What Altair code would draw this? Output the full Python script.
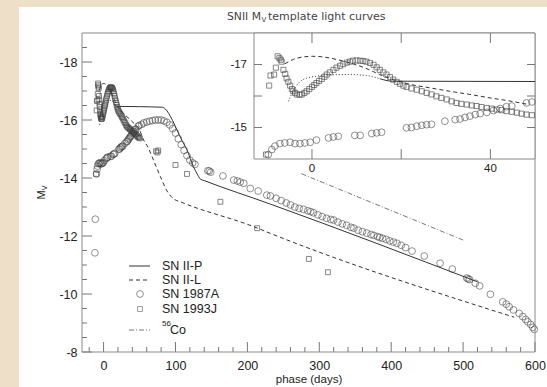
import altair as alt
import pandas as pd

# ---------------- data ----------------
sn87_day = [-12.0, -11.5, -9.8, -9.0, -8.3, -7.2, -6.1, -4.9, -3.8, -2.7, -1.6, -0.4, 1.0, 3.7, 4.8, 5.9,
            9.6, 10.8, 13.4, 14.5, 15.6, 21.2, 22.3, 23.5, 24.6, 25.7, 26.8, 29.8, 32.1, 33.2, 34.3,
            35.4, 36.6, 37.7, 39.2, 40.7, 42.2, 43.6, 44.8, 48.1, 49.3, 53, 56, 60, 64, 68, 72, 76,
            80, 84, 88, 92, 96, 100, 104, 108, 112, 116, 120, 124, 127, 145, 147, 149, 166, 181,
            186, 190, 195, 204, 215, 227, 232, 240, 247, 254, 260, 266, 272, 278, 284, 288, 292,
            298, 304, 310, 316, 320, 326, 332, 338, 344, 348, 354, 360, 366, 372, 376, 381, 384,
            388, 393, 398, 403, 408, 414, 420, 429, 446, 468, 485, 505, 507, 509, 517, 523, 538,
            555, 560, 564, 570, 578, 583, 587, 590, 594, 597, 599]
sn87_mag = [-11.42, -12.58, -14.14, -14.30, -14.41, -14.49, -14.51, -14.53, -14.49, -14.49, -14.51,
            -14.53, -14.60, -14.67, -14.70, -14.72, -14.75, -14.75, -14.81, -14.83, -14.85, -14.99,
            -15.00, -15.04, -15.07, -15.09, -15.10, -15.20, -15.25, -15.27, -15.32, -15.36, -15.41,
            -15.44, -15.48, -15.54, -15.60, -15.66, -15.68, -15.78, -15.81, -15.85, -15.90, -15.93,
            -15.96, -15.98, -16.00, -16.00, -16.00, -15.97, -15.92, -15.83, -15.70, -15.55, -15.35,
            -15.15, -14.95, -14.77, -14.62, -14.52, -14.47, -14.25, -14.24, -14.20, -14.07, -13.93,
            -13.90, -13.86, -13.82, -13.64, -13.55, -13.41, -13.38, -13.30, -13.22, -13.14, -13.07,
            -13.00, -12.95, -12.92, -12.87, -12.84, -12.80, -12.73, -12.67, -12.61, -12.57, -12.55,
            -12.48, -12.42, -12.37, -12.30, -12.27, -12.20, -12.15, -12.10, -12.05, -12.02, -11.98,
            -11.95, -11.92, -11.88, -11.83, -11.79, -11.75, -11.68, -11.60, -11.48, -11.31, -11.06,
            -10.86, -10.55, -10.52, -10.50, -10.37, -10.28, -9.99, -9.73, -9.65, -9.56, -9.45,
            -9.33, -9.22, -9.12, -9.04, -8.95, -8.85, -8.78]

sn93_day = [-10.3, -9.6, -9.3, -8.5, -8.1, -7.7, -7.3, -7.0, -6.8, -6.4, -6.0, -5.7, -5.3, -4.9, -4.5,
            -4.2, -3.8, -3.4, -2.8, -2.3, -1.7, -1.2, -0.6, 0.0, 0.5, 1.0, 1.6, 2.2, 2.8, 3.3, 4.0,
            4.8, 5.5, 6.3, 7.0, 7.8, 8.5, 9.2, 10.0, 10.8, 11.5, 12.2, 13.0, 13.8, 14.5, 15.2, 16.0,
            16.7, 17.5, 18.2, 19.0, 19.7, 20.5, 21.2, 22.3, 23.5, 24.6, 25.7, 26.8, 27.9, 29.0,
            30.2, 31.3, 32.4, 33.5, 34.7, 35.8, 36.9, 38.0, 39.2, 40.3, 41.4, 42.5, 43.6, 44.8,
            45.9, 47.0, 48.1, 49.3, 50.5, 73, 75, 76, 100, 116, 162.5, 213.6, 285.5, 312]
sn93_mag = [-14.14, -16.33, -16.65, -16.68, -16.90, -17.26, -17.20, -17.15, -17.09, -16.83, -16.70,
            -16.56, -16.45, -16.33, -16.22, -16.15, -16.10, -16.05, -16.04, -16.05, -16.10, -16.15,
            -16.22, -16.29, -16.35, -16.41, -16.48, -16.54, -16.61, -16.68, -16.75, -16.83, -16.90,
            -16.96, -17.01, -17.06, -17.09, -17.12, -17.13, -17.12, -17.11, -17.09, -17.05, -16.99,
            -16.91, -16.83, -16.75, -16.68, -16.60, -16.52, -16.45, -16.39, -16.33, -16.29, -16.24,
            -16.20, -16.15, -16.10, -16.05, -15.99, -15.94, -15.89, -15.83, -15.78, -15.75, -15.73,
            -15.70, -15.68, -15.65, -15.62, -15.60, -15.57, -15.55, -15.52, -15.50, -15.47, -15.44,
            -15.41, -15.39, -15.37, -14.92, -14.88, -14.95, -14.45, -14.14, -13.18, -12.27, -11.21,
            -10.75]

iip_day = [15.2, 18, 50, 81, 86, 90.5, 96, 102, 109, 116, 125, 130, 134.8, 140, 232, 520]
iip_mag = [-16.55, -16.47, -16.46, -16.44, -16.38, -16.23, -15.98, -15.66, -15.30, -14.97, -14.39,
           -14.15, -13.96, -13.91, -13.10, -10.42]

iip_early_day = [-5.3, -3.8, -2.0, 1.0, 4.8, 8.5, 12.2, 15.2]
iip_early_mag = [-15.83, -16.26, -16.52, -16.63, -16.68, -16.68, -16.65, -16.55]

iil_day = [-6.1, -4.2, -2.0, 0.2, 2.5, 5.5, 8.5, 11.9, 15.2, 18.2, 22.0, 26.4, 30.9, 35.4, 39.9,
           44.4, 48.5, 55.7, 62, 69.7, 79, 88.3, 97.5, 106.8, 209, 232, 571]
iil_mag = [-17.02, -17.16, -17.24, -17.26, -17.24, -17.16, -17.05, -16.89, -16.68, -16.52, -16.37,
           -16.26, -16.15, -16.05, -15.94, -15.84, -15.73, -15.31, -15.05, -14.60, -14.05, -13.55,
           -13.28, -13.18, -12.32, -12.09, -9.20]

co_day = [275, 500]
co_mag = [-14.15, -11.86]

x_major = [0, 100, 200, 300, 400, 500, 600]
y_major = [-18, -16, -14, -12, -10, -8]
inset_x_ticks = [0, 20, 40]
inset_x_labels = [0, 40]
inset_y_ticks = [-17, -16, -15]
inset_y_labels = [-17, -15]
legend_labels = ["SN II-P", "SN II-L", "SN 1987A", "SN 1993J"]

# ---------------- layout ----------------
W, H = 453, 319
IX0, IX1, IY0, IY1 = 172, 453, 0, 126
FONT = "Liberation Sans"
INK = "#222222"
LINE = "#333333"

x_minor = [v for v in range(-20, 601, 20) if v not in x_major]
y_minor = [-18.5 + 0.5 * i for i in range(22) if (-18.5 + 0.5 * i) not in y_major]

d87 = pd.DataFrame({"day": sn87_day, "mag": sn87_mag})
d93 = pd.DataFrame({"day": sn93_day, "mag": sn93_mag})
dP = pd.DataFrame({"day": iip_day, "mag": iip_mag})
dPe = pd.DataFrame({"day": iip_early_day, "mag": iip_early_mag})
dL = pd.DataFrame({"day": iil_day, "mag": iil_mag})
dC = pd.DataFrame({"day": co_day, "mag": co_mag})

x_axis = alt.Axis(values=x_major, labelExpr="'' + datum.value", ticks=False, domain=False, grid=False,
                  labelFont=FONT, labelFontSize=12.5, labelColor=INK, labelPadding=7, zindex=1,
                  labelFlush=False,
                  title="phase (days)", titleFont=FONT, titleFontSize=11.5, titleFontWeight="normal",
                  titleColor=INK, titlePadding=2)
y_axis = alt.Axis(values=y_major, labelExpr="'' + datum.value", ticks=False, domain=False, grid=False,
                  labelFont=FONT, labelFontSize=12.5, labelColor=INK, labelPadding=5, title=None, zindex=1,
                  labelFlush=False)
xs = alt.Scale(domain=[-30, 600], nice=False, zero=False)
ys = alt.Scale(domain=[-19, -8], reverse=True, nice=False, zero=False)


def mx(f="day"):
    return alt.X(f"{f}:Q", scale=xs, axis=x_axis)


def my(f="mag"):
    return alt.Y(f"{f}:Q", scale=ys, axis=y_axis)


ixs = alt.Scale(domain=[-13, 50], range=[IX0, IX1], nice=False, zero=False)
iys = alt.Scale(domain=[-18, -14], range=[IY0, IY1], nice=False, zero=False)


def ix(f="day"):
    return alt.X(f"{f}:Q", scale=ixs, axis=None)


def iy(f="mag"):
    return alt.Y(f"{f}:Q", scale=iys, axis=None)


base = alt.Chart(pd.DataFrame({"a": [0]}))

# white panel
panel = base.mark_rect(fill="white", stroke=None).encode(
    x=alt.value(-63), x2=alt.value(W + 12), y=alt.value(-26), y2=alt.value(H + 35))

# main ticks
xt_major = alt.Chart(pd.DataFrame({"day": x_major})).mark_rule(color="#777", strokeWidth=1).encode(
    x=mx(), y=alt.value(H), y2=alt.value(H - 10))
xt_minor = alt.Chart(pd.DataFrame({"day": x_minor})).mark_rule(color="#777", strokeWidth=1).encode(
    x=mx(), y=alt.value(H), y2=alt.value(H - 5))
yt_major = alt.Chart(pd.DataFrame({"mag": y_major})).mark_rule(color="#777", strokeWidth=1).encode(
    y=my(), x=alt.value(0), x2=alt.value(10))
yt_minor = alt.Chart(pd.DataFrame({"mag": y_minor})).mark_rule(color="#777", strokeWidth=1).encode(
    y=my(), x=alt.value(0), x2=alt.value(5))

# main curves
m_iip = alt.Chart(dP).mark_line(color=LINE, strokeWidth=1, interpolate="monotone").encode(
    x=mx(), y=my(), order="day:Q")
m_iipe = alt.Chart(dPe).mark_line(color=LINE, strokeWidth=1, strokeDash=[1, 2], interpolate="monotone").encode(
    x=mx(), y=my(), order="day:Q")
m_iil = alt.Chart(dL).mark_line(color=LINE, strokeWidth=1, strokeDash=[4, 3], interpolate="monotone").encode(
    x=mx(), y=my(), order="day:Q")
m_co = alt.Chart(dC).mark_line(color="#555", strokeWidth=0.8, strokeDash=[5, 2, 1, 2]).encode(
    x=mx(), y=my(), order="day:Q")
m_87 = alt.Chart(d87).mark_point(shape="circle", filled=False, color="#3a3a3a", size=46, strokeWidth=0.8).encode(
    x=mx(), y=my())
m_93 = alt.Chart(d93).mark_point(shape="square", filled=False, color="#404040", size=24, strokeWidth=0.9).encode(
    x=mx(), y=my())

frame = base.mark_rect(fill=None, stroke="#8a8a8a", strokeWidth=1).encode(
    x=alt.value(0), x2=alt.value(W), y=alt.value(0), y2=alt.value(H))

# legend
ly = [233, 247, 261, 276, 297]
lx0, lx1, lsx, ltx = 47, 68, 58, 80
leg_p = base.mark_rule(color=LINE, strokeWidth=1).encode(
    x=alt.value(lx0), x2=alt.value(lx1), y=alt.value(ly[0]))
leg_l = base.mark_rule(color=LINE, strokeWidth=1, strokeDash=[4, 3]).encode(
    x=alt.value(lx0), x2=alt.value(lx1), y=alt.value(ly[1]))
leg_c = base.mark_point(shape="circle", filled=False, color="#3a3a3a", size=46, strokeWidth=0.8).encode(
    x=alt.value(lsx), y=alt.value(ly[2]))
leg_s = base.mark_point(shape="square", filled=False, color="#505050", size=24, strokeWidth=0.8).encode(
    x=alt.value(lsx), y=alt.value(ly[3]))
leg_co = base.mark_rule(color="#555", strokeWidth=0.8, strokeDash=[5, 2, 1, 2]).encode(
    x=alt.value(lx0), x2=alt.value(lx1), y=alt.value(ly[4]))
leg_txt = [base.mark_text(text=t, font=FONT, fontSize=12.5, color=INK, align="left", baseline="middle").encode(
    x=alt.value(ltx), y=alt.value(y)) for t, y in zip(legend_labels, ly[:4])]
leg_56 = base.mark_text(text="56", font=FONT, fontSize=8, color=INK, align="left", baseline="middle").encode(
    x=alt.value(ltx), y=alt.value(ly[4] - 6))
leg_cotxt = base.mark_text(text="Co", font=FONT, fontSize=12.5, color=INK, align="left", baseline="middle").encode(
    x=alt.value(ltx + 8), y=alt.value(ly[4]))

# title & y-title
TF = "DejaVu Sans"
t1 = base.mark_text(text="SNII M", font=TF, fontSize=10.8, color="#444", align="right", baseline="alphabetic").encode(
    x=alt.value(179), y=alt.value(-13))
t2 = base.mark_text(text="V", font=TF, fontSize=7, color="#444", align="left", baseline="alphabetic").encode(
    x=alt.value(179.5), y=alt.value(-11))
t3 = base.mark_text(text="template light curves", font=TF, fontSize=11, color="#444", align="left",
                    baseline="alphabetic").encode(x=alt.value(186), y=alt.value(-13))
yt1 = base.mark_text(text="M", font=FONT, fontSize=11, color=INK, angle=270, align="center", baseline="middle").encode(
    x=alt.value(-40), y=alt.value(162))
yt2 = base.mark_text(text="V", font=FONT, fontSize=7, color=INK, angle=270, align="center", baseline="middle").encode(
    x=alt.value(-37), y=alt.value(155))

main = alt.layer(panel, xt_major, xt_minor, yt_major, yt_minor, m_iil, m_iip, m_iipe, m_co, m_87, m_93,
                 frame, leg_p, leg_l, leg_c, leg_s, leg_co, *leg_txt, leg_56, leg_cotxt, t1, t2, t3, yt1, yt2)

# ---------------- inset ----------------
def inside(df):
    return df[(df.day >= -13) & (df.day <= 50) & (df.mag >= -18) & (df.mag <= -14)]


ibox = base.mark_rect(fill="white", stroke="#8a8a8a", strokeWidth=1).encode(
    x=alt.value(IX0), x2=alt.value(IX1), y=alt.value(IY0), y2=alt.value(IY1))
ixt_b = alt.Chart(pd.DataFrame({"day": inset_x_ticks})).mark_rule(color="#777").encode(
    x=ix(), y=alt.value(IY1), y2=alt.value(IY1 - 10))
ixt_t = alt.Chart(pd.DataFrame({"day": inset_x_ticks})).mark_rule(color="#777").encode(
    x=ix(), y=alt.value(IY0), y2=alt.value(IY0 + 10))
iyt_r = alt.Chart(pd.DataFrame({"mag": inset_y_ticks})).mark_rule(color="#777").encode(
    y=iy(), x=alt.value(IX1), x2=alt.value(IX1 - 8))
iyt_l = alt.Chart(pd.DataFrame({"mag": inset_y_ticks})).mark_rule(color="#777").encode(
    y=iy(), x=alt.value(IX0), x2=alt.value(IX0 + 8))
i_iip = alt.Chart(inside(dP)).mark_line(color=LINE, strokeWidth=1, interpolate="monotone").encode(
    x=ix(), y=iy(), order="day:Q")
i_iipe = alt.Chart(inside(dPe)).mark_line(color=LINE, strokeWidth=1, strokeDash=[1, 2], interpolate="monotone").encode(
    x=ix(), y=iy(), order="day:Q")
i_iil = alt.Chart(inside(dL)).mark_line(color=LINE, strokeWidth=1, strokeDash=[4, 3], interpolate="monotone").encode(
    x=ix(), y=iy(), order="day:Q")
i_87 = alt.Chart(inside(d87)).mark_point(shape="circle", filled=False, color="#3a3a3a", size=46, strokeWidth=0.8).encode(
    x=ix(), y=iy())
i_93 = alt.Chart(inside(d93)).mark_point(shape="square", filled=False, color="#404040", size=26, strokeWidth=0.9).encode(
    x=ix(), y=iy())
ixl = alt.Chart(pd.DataFrame({"day": inset_x_labels})).mark_text(font=FONT, fontSize=11.5, color=INK, baseline="middle").encode(
    x=ix(), y=alt.value(IY1 + 10), text="day:Q")
iyl = alt.Chart(pd.DataFrame({"mag": inset_y_labels, "lab": [str(v) for v in inset_y_labels]})).mark_text(
    font=FONT, fontSize=11.5, color=INK, align="right", baseline="middle").encode(
    y=iy(), x=alt.value(IX0 - 7), text="lab:N")

inset = alt.layer(ibox, ixt_b, ixt_t, iyt_r, iyt_l, i_iil, i_iip, i_iipe, i_87, i_93, ixl, iyl)

chart = alt.layer(main, inset).resolve_scale(x="independent", y="independent").properties(
    width=W, height=H,
    background="#EEE0C8",
    padding={"left": 82, "top": 33, "right": 12, "bottom": 35},
    autosize=alt.AutoSizeParams(type="none"),
).configure_view(stroke=None)

chart.save("out.html", embed_options={"renderer": "svg", "actions": False})
